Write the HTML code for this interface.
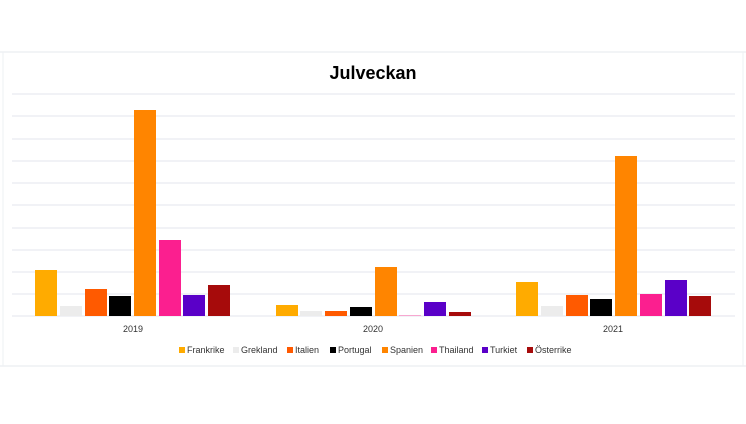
<!DOCTYPE html><html><head><style>body{margin:0;background:#fff}</style></head><body>
<svg width="746" height="419" xmlns="http://www.w3.org/2000/svg" font-family="Liberation Sans, sans-serif">
<rect width="746" height="419" fill="#fff"/>
<line x1="0" y1="52" x2="746" y2="52" stroke="#e6e9ee"/>
<line x1="0" y1="366" x2="746" y2="366" stroke="#e6e9ee"/>
<line x1="3" y1="52" x2="3" y2="366" stroke="#eef0f3"/>
<line x1="743" y1="52" x2="743" y2="366" stroke="#eef0f3"/>
<text x="373" y="79" text-anchor="middle" font-size="18" font-weight="bold">Julveckan</text>
<g stroke="#e3e6ec" stroke-width="1">
<line x1="12" x2="735" y1="94" y2="94"/><line x1="12" x2="735" y1="116" y2="116"/><line x1="12" x2="735" y1="139" y2="139"/><line x1="12" x2="735" y1="161" y2="161"/><line x1="12" x2="735" y1="183" y2="183"/><line x1="12" x2="735" y1="205" y2="205"/><line x1="12" x2="735" y1="228" y2="228"/><line x1="12" x2="735" y1="250" y2="250"/><line x1="12" x2="735" y1="272" y2="272"/><line x1="12" x2="735" y1="294" y2="294"/><line x1="12" x2="735" y1="316" y2="316"/>
</g>
<g>
<rect x="35" y="270" width="22" height="46" fill="#ffab00"/>
<rect x="60" y="306" width="22" height="10" fill="#ececec"/>
<rect x="85" y="289" width="22" height="27" fill="#ff5a00"/>
<rect x="109" y="296" width="22" height="20" fill="#000"/>
<rect x="134" y="110" width="22" height="206" fill="#ff8500"/>
<rect x="159" y="240" width="22" height="76" fill="#fb1f8f"/>
<rect x="183" y="295" width="22" height="21" fill="#5a00c8"/>
<rect x="208" y="285" width="22" height="31" fill="#a60b0b"/>

<rect x="276" y="305" width="22" height="11" fill="#ffab00"/>
<rect x="300" y="311" width="22" height="5" fill="#ececec"/>
<rect x="325" y="311" width="22" height="5" fill="#ff5a00"/>
<rect x="350" y="307" width="22" height="9" fill="#000"/>
<rect x="375" y="267" width="22" height="49" fill="#ff8500"/>
<rect x="399" y="315" width="22" height="1" fill="#f7a8d0"/>
<rect x="424" y="302" width="22" height="14" fill="#5a00c8"/>
<rect x="449" y="312" width="22" height="4" fill="#a60b0b"/>

<rect x="516" y="282" width="22" height="34" fill="#ffab00"/>
<rect x="541" y="306" width="22" height="10" fill="#ececec"/>
<rect x="566" y="295" width="22" height="21" fill="#ff5a00"/>
<rect x="590" y="299" width="22" height="17" fill="#000"/>
<rect x="615" y="156" width="22" height="160" fill="#ff8500"/>
<rect x="640" y="294" width="22" height="22" fill="#fb1f8f"/>
<rect x="665" y="280" width="22" height="36" fill="#5a00c8"/>
<rect x="689" y="296" width="22" height="20" fill="#a60b0b"/>
</g>
<g font-size="9" fill="#333" text-anchor="middle">
<text x="133" y="332">2019</text><text x="373" y="332">2020</text><text x="613" y="332">2021</text>
</g>
<g font-size="9" fill="#333">
<rect x="179" y="347" width="6" height="6" fill="#ffab00"/><text x="187" y="353">Frankrike</text>
<rect x="233" y="347" width="6" height="6" fill="#ececec"/><text x="241" y="353">Grekland</text>
<rect x="287" y="347" width="6" height="6" fill="#ff5a00"/><text x="295" y="353">Italien</text>
<rect x="330" y="347" width="6" height="6" fill="#000"/><text x="338" y="353">Portugal</text>
<rect x="382" y="347" width="6" height="6" fill="#ff8500"/><text x="390" y="353">Spanien</text>
<rect x="431" y="347" width="6" height="6" fill="#fb1f8f"/><text x="439" y="353">Thailand</text>
<rect x="482" y="347" width="6" height="6" fill="#5a00c8"/><text x="490" y="353">Turkiet</text>
<rect x="527" y="347" width="6" height="6" fill="#a60b0b"/><text x="535" y="353">Österrike</text>
</g>
</svg></body></html>
